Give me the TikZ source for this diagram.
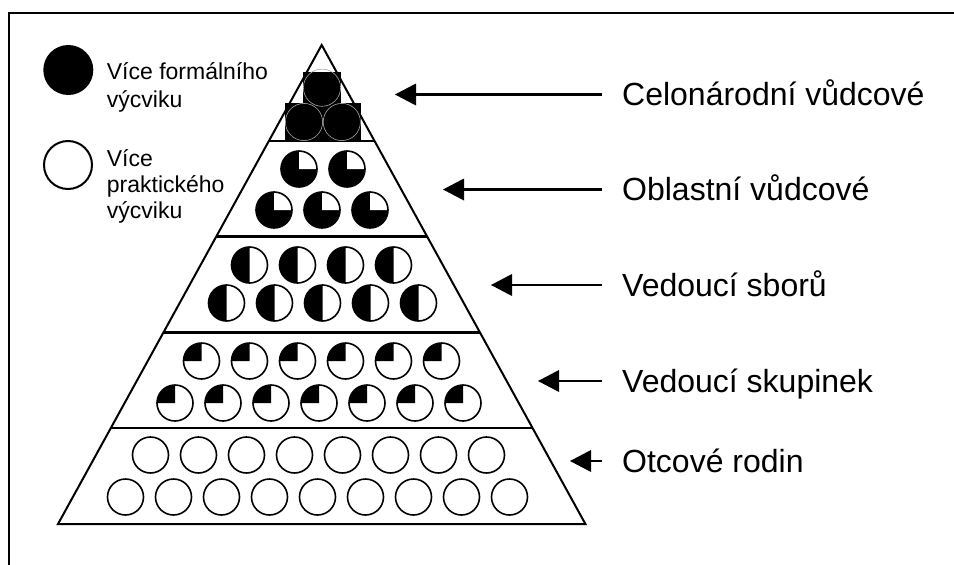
\documentclass[tikz,border=0pt]{standalone}
\usepackage{fontspec}
\setmainfont{Liberation Sans}
\usetikzlibrary{calc}

\begin{document}
\begin{tikzpicture}[x=1pt,y=1pt]
	\tikzstyle{every node}+=[inner sep=0pt]
	\tikzstyle{level label}=[anchor=west, text height=22.9pt, text depth=0pt, font=\fontsize{32}{38}\selectfont]
	\tikzstyle{key label}=[anchor=base west, font=\fontsize{23}{27}\selectfont]
	\tikzstyle{coin}=[draw=black, line width=1.6pt]
	\useasboundingbox (0,0) rectangle (954,-565);
	\draw [black, line width=2.4pt] (980,-13) -- (9,-13) -- (9,-580);
	% legend
	\fill [black] (68.3,-70) circle (25);
	\node [key label] (keyFormal) at (106.7,-79) {Více formálního};
	\node [key label] (keyFormalB) at (106.7,-107.5) {výcviku};
	\draw [black, line width=2pt] (68,-165) circle (24);
	\node [key label] (keyPractical) at (106.7,-166) {Více};
	\node [key label] (keyPracticalB) at (106.7,-192.5) {praktického};
	\node [key label] (keyPracticalC) at (106.7,-218.5) {výcviku};
	% pyramid
	\coordinate (apex) at (321.7,-45);
	\coordinate (baseL) at (58,-524);
	\coordinate (baseR) at (585.4,-524);
	\draw [black, line width=2pt] (baseL) -- (apex) -- (baseR) -- cycle;
	\foreach \t in {0.2,0.4,0.6,0.8}
		\draw [black, line width=2.4pt] ($(apex)!\t!(baseL)$) -- ($(apex)!\t!(baseR)$);
	% top band
	\fill [black] (303.3,-72.3) rectangle (340.7,-103);
	\fill [black] (285,-103) rectangle (360.7,-140.7);
	\draw [gray!70, line width=0.6pt] (322,-87.7) circle (18.6);
	\draw [gray!70, line width=0.6pt] (304,-122) circle (18.6);
	\draw [gray!70, line width=0.6pt] (341.8,-122) circle (18.6);
	% second band
	\foreach \x/\y in {299/169, 347/169, 274/210, 322/210, 370/210} {
		\fill [black] (\x,-\y) circle (18);
		\fill [white] (\x,-\y) -- ++(18,0) arc (0:90:18) -- cycle;
		\draw [coin] (\x,-\y) circle (18);
	}
	% third band
	\foreach \x/\y in {249.5/265, 297.5/265, 345.5/265, 393.5/265, 226.5/303, 274.5/303, 322.5/303, 370.5/303, 418.5/303} {
		\fill [black] (\x,-\y) ++(0,18) arc (90:270:18) -- cycle;
		\draw [coin] (\x,-\y) circle (18);
	}
	% fourth band
	\foreach \k in {0,...,5} {
		\fill [black] ({201.5+48*\k},-361) -- ++(0,18) arc (90:180:18) -- cycle;
		\draw [coin] ({201.5+48*\k},-361) circle (18);
	}
	\foreach \k in {0,...,6} {
		\fill [black] ({175+48*\k},-403) -- ++(0,18) arc (90:180:18) -- cycle;
		\draw [coin] ({175+48*\k},-403) circle (18);
	}
	% bottom band
	\foreach \k in {0,...,7}
		\draw [coin] ({150.5+48*\k},-455) circle (18);
	\foreach \k in {0,...,8}
		\draw [coin] ({125.5+48*\k},-497) circle (18);
	% labels and pointers
	\foreach \name/\y/\tipx/\txt in {national/94.5/395/Celonárodní vůdcové, regional/189.5/443/Oblastní vůdcové, troop/285/491/Vedoucí sborů, group/381/538/Vedoucí skupinek, family/461/570/Otcové rodin} {
		\node [level label] (lbl\name) at (622,-\y) {\txt};
		\coordinate (tip\name) at (\tipx,-\y);
		\draw [black, line width=2.8pt, shorten <=20pt, shorten >=12pt] (lbl\name.west) -- (tip\name);
		\fill [black] (tip\name) -- ++(21,11) -- ++(0,-22) -- cycle;
	}
\end{tikzpicture}
\end{document}
